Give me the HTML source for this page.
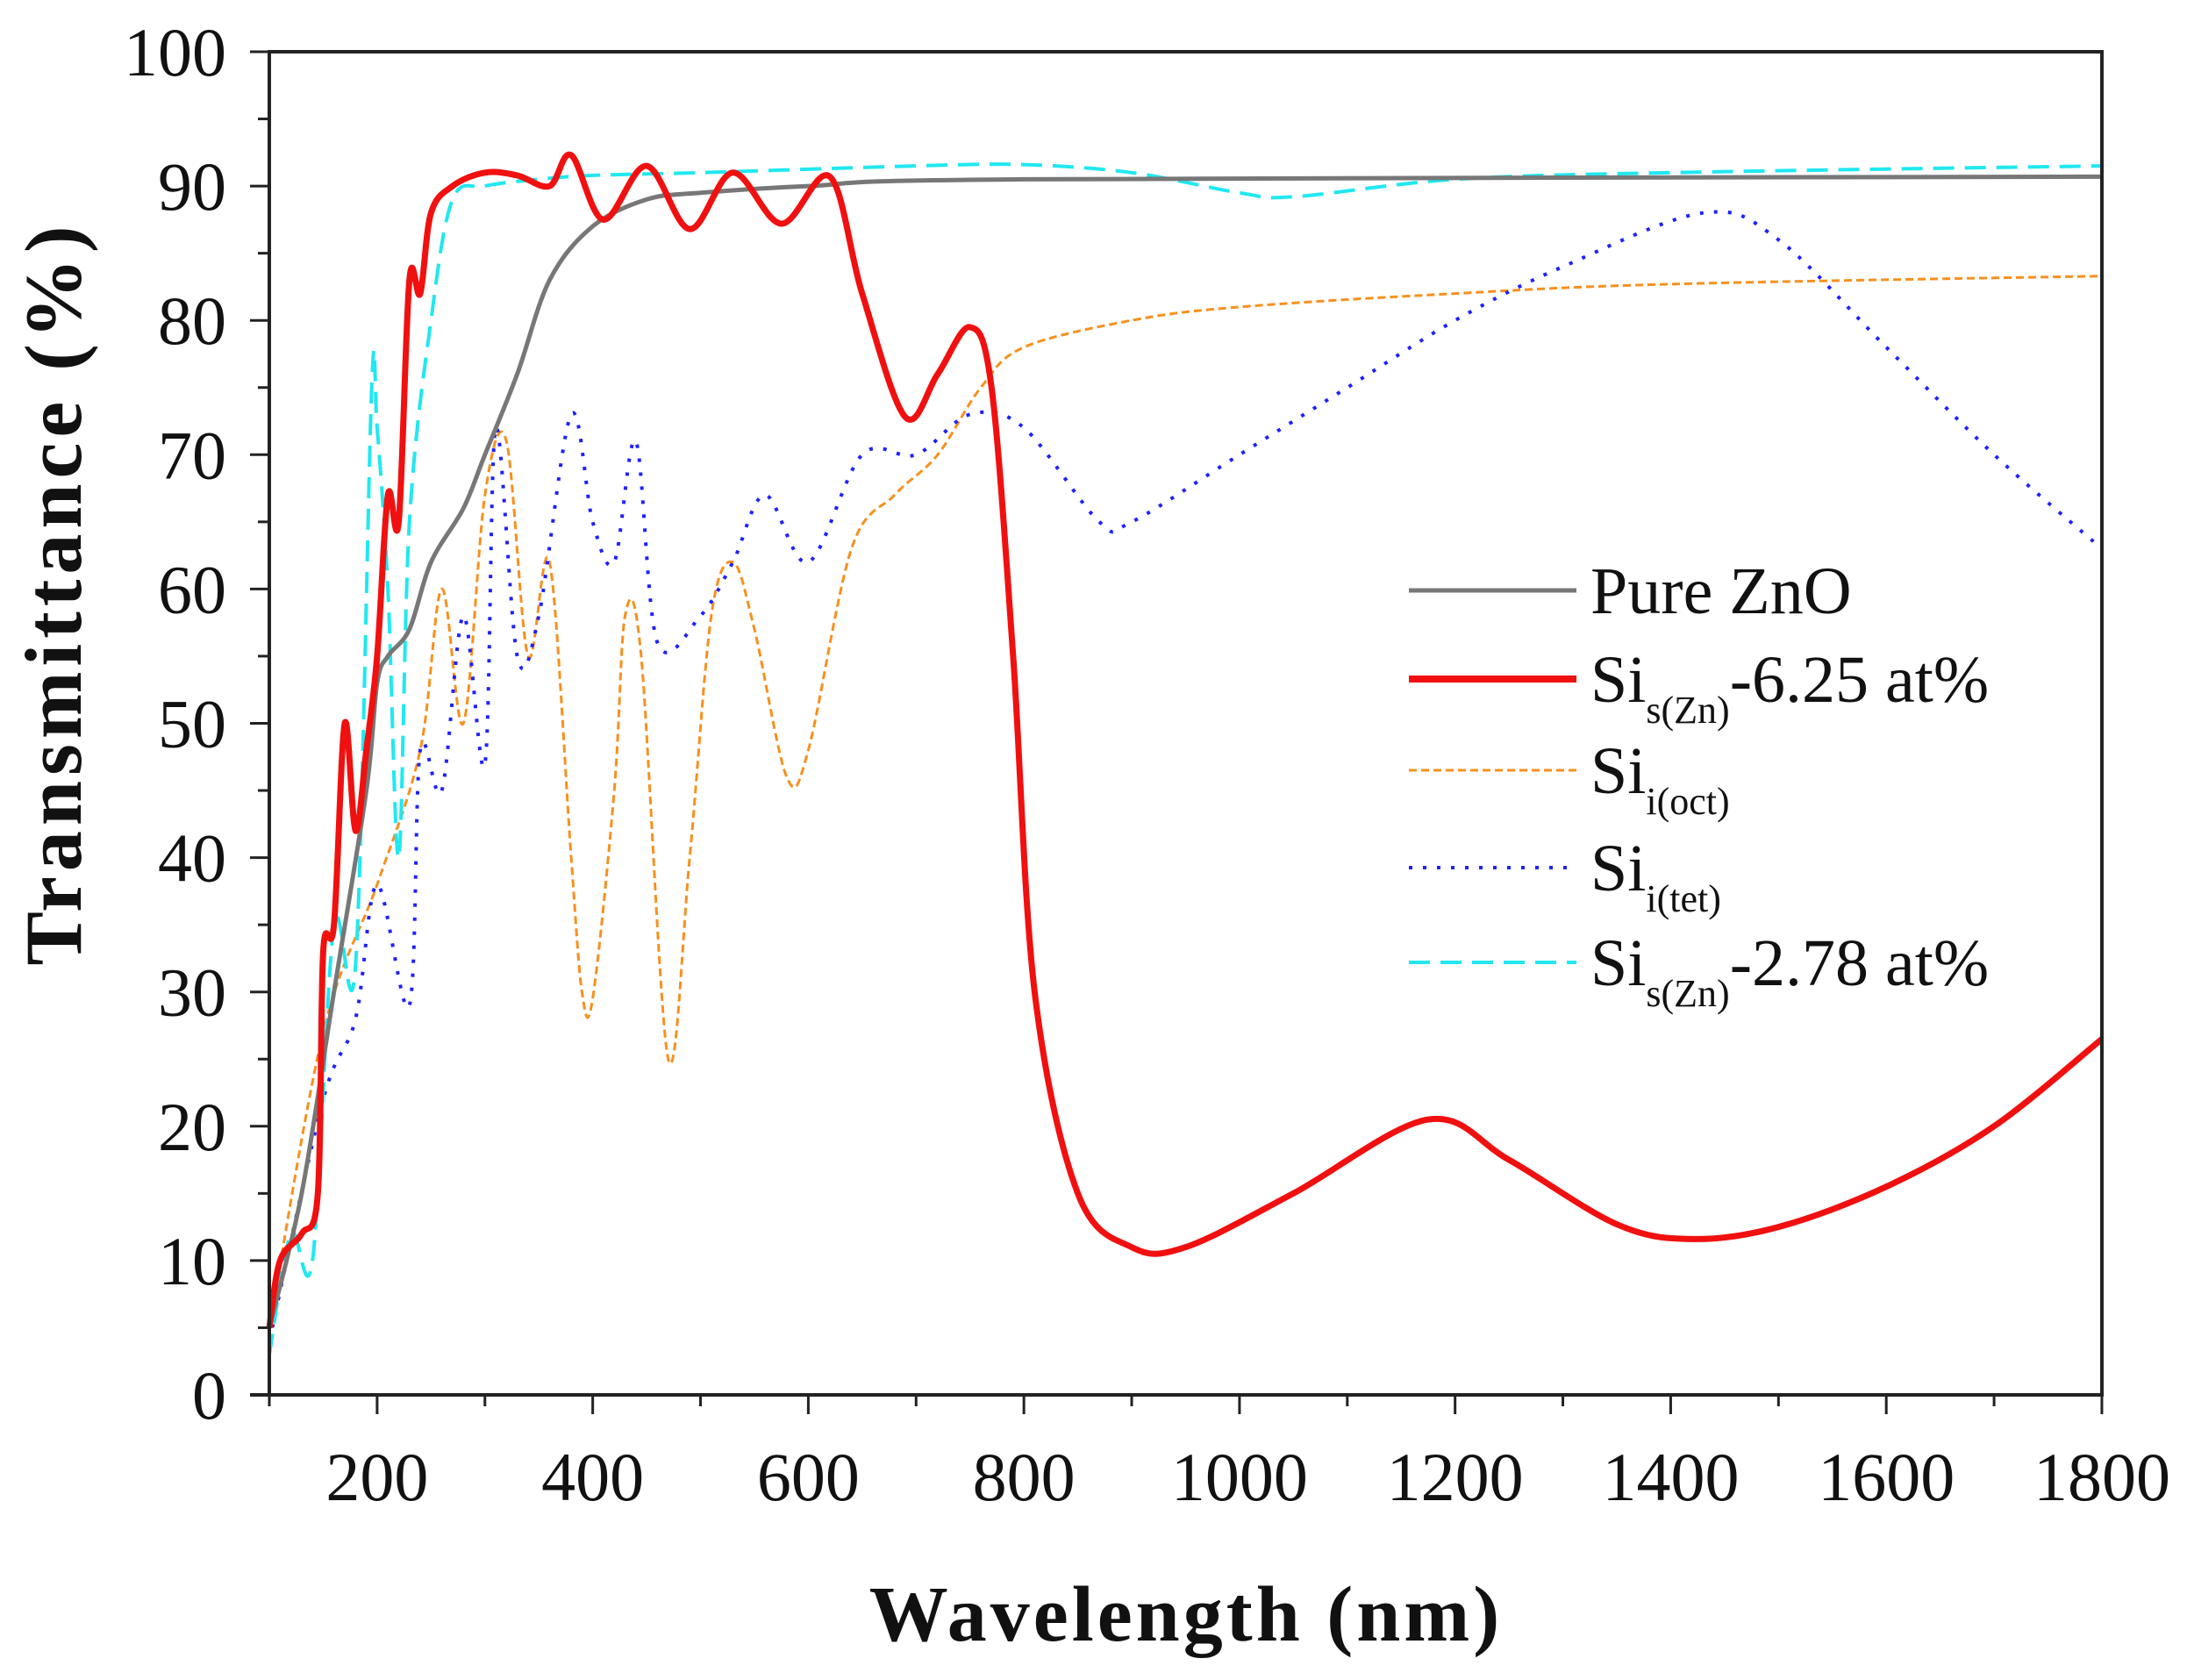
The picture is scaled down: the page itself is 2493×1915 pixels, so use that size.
<!DOCTYPE html>
<html><head><meta charset="utf-8"><style>
html,body{margin:0;padding:0;background:#fff}
svg{display:block}
text{font-family:"Liberation Serif",serif;fill:#111}
</style></head><body>
<svg id="s" width="2493" height="1915" viewBox="0 0 2493 1915" xmlns="http://www.w3.org/2000/svg">
<g id="curves"></g>
<g id="axes"></g>
<text x="1352" y="1870" font-size="90" font-weight="bold" text-anchor="middle" letter-spacing="4">Wavelength (nm)</text>
<text transform="translate(92,676) rotate(-90)" font-size="92" font-weight="bold" text-anchor="middle" letter-spacing="6">Transmittance (%)</text>
<g font-size="78" text-anchor="middle" id="xl"></g>
<g font-size="78" text-anchor="end" id="yl"></g>
<g id="leg">
<line x1="1606" y1="673" x2="1797" y2="673" stroke="#777" stroke-width="5"/>
<text x="1813" y="699" font-size="76">Pure ZnO</text>
<line x1="1606" y1="774" x2="1797" y2="774" stroke="#f01010" stroke-width="8"/>
<text x="1813" y="800" font-size="76">Si<tspan font-size="44" dy="24">s(Zn)</tspan><tspan dy="-24">-6.25 at%</tspan></text>
<line x1="1606" y1="878" x2="1797" y2="878" stroke="#f7901e" stroke-width="3" stroke-dasharray="9 5"/>
<text x="1813" y="904" font-size="76">Si<tspan font-size="44" dy="24">i(oct)</tspan></text>
<line x1="1606" y1="989" x2="1797" y2="989" stroke="#2020ff" stroke-width="4" stroke-dasharray="4 12"/>
<text x="1813" y="1015" font-size="76">Si<tspan font-size="44" dy="24">i(tet)</tspan></text>
<line x1="1606" y1="1097" x2="1797" y2="1097" stroke="#20e8f0" stroke-width="4" stroke-dasharray="24 12"/>
<text x="1813" y="1123" font-size="76">Si<tspan font-size="44" dy="24">s(Zn)</tspan><tspan dy="-24">-2.78 at%</tspan></text>
</g>
</svg>
<script>
var NS="http://www.w3.org/2000/svg";
function X(n){return 307+(n-100)*1.2288}
function Y(t){return 1590-t*15.31}
function path(pts,attrs){
 var P=pts.map(function(p){return [X(p[0]),Y(p[1])]});
 var d="M"+P[0][0].toFixed(1)+","+P[0][1].toFixed(1);
 for(var i=0;i<P.length-1;i++){
  var p0=P[i-1]||P[i],p1=P[i],p2=P[i+1],p3=P[i+2]||P[i+1];
  var c1=[p1[0]+(p2[0]-p0[0])/6,p1[1]+(p2[1]-p0[1])/6];
  var c2=[p2[0]-(p3[0]-p1[0])/6,p2[1]-(p3[1]-p1[1])/6];
  d+=" C"+c1.map(v=>v.toFixed(1))+" "+c2.map(v=>v.toFixed(1))+" "+p2.map(v=>v.toFixed(1));
 }
 var e=document.createElementNS(NS,"path");e.setAttribute("d",d);e.setAttribute("fill","none");
 e.setAttribute("stroke-linejoin","round");
 for(var k in attrs)e.setAttribute(k,attrs[k]);
 document.getElementById("curves").appendChild(e);
}
path([[100,5],[150,27],[200,38],[240,48],[260,60],[280,50],[300,67],[320,71],[340,55],[360,62],[380,40],[390,30],[400,29.5],[420,45],[430,58],[445,55],[470,25],[490,40],[510,58],[530,62],[550,57],[580,46],[600,48],[640,63],[680,67],[720,70],[760,75],[800,78],[900,80],[1000,81],[1200,82],[1400,82.7],[1800,83.3]],{stroke:"#f7901e","stroke-width":3,"stroke-dasharray":"9 5"});
path([[100,4],[150,22],[180,28],[200,38],[230,29],[240,48],[260,45],[280,58],[300,47],[310,72],[330,55],[350,58],[380,73],[400,65],[420,62],[440,71],[460,56],[500,58],[530,62],[560,67],[600,62],[650,70],[700,70],[750,73],[800,72],[870,65],[900,65],[1000,70],[1100,75],[1200,80],[1300,84],[1430,88],[1500,86],[1600,78],[1700,70],[1800,63]],{stroke:"#2020ff","stroke-width":4,"stroke-dasharray":"4 12"});
path([[100,3],[120,12],[140,10],[160,35],[180,32],[195,75],[200,72],[210,60],[220,40],[230,65],[250,80],[270,89],[300,90],[350,90.5],[400,90.8],[500,91],[700,91.5],[800,91.6],[900,91],[1000,89.5],[1050,89.2],[1200,90.5],[1400,91],[1800,91.5]],{stroke:"#20e8f0","stroke-width":4,"stroke-dasharray":"24 12"});
path([[100,5],[130,15],[160,30],[190,45],[200,53],[210,55],[230,57],[250,62],[280,66],[300,70],[330,76],[360,83],[400,87],[450,89],[500,89.5],[600,90],[800,90.5],[1800,90.7]],{stroke:"#777","stroke-width":5});
path([[100,5],[110,10],[130,12],[145,15],[150,33],[160,35],[170,50],[180,42],[190,48],[200,55],[210,67],[220,65],[230,83],[240,82],[250,88],[270,90],[300,91],[330,90.8],[360,90],[380,92.3],[410,87.5],[450,91.5],[490,86.8],[530,91],[575,87.2],[620,90.7],[650,82],[690,72.8],[720,76],[750,79.5],[770,75],[790,55],[810,30],[850,15],[900,11],[950,11],[1050,15],[1175,20.5],[1250,17.5],[1350,12.7],[1420,11.6],[1500,12.5],[1600,15.5],[1700,20],[1800,26.5]],{stroke:"#f01010","stroke-width":7});
var ax=document.getElementById("axes"),h="";
h+='<rect x="307" y="59" width="2089" height="1531" fill="none" stroke="#222" stroke-width="4"/>';
h+='<line x1="285" y1="1590" x2="307" y2="1590" stroke="#222" stroke-width="4"/>';
for(var n=100;n<=1800;n+=100){var x=X(n),L=(n%200==0)?22:13;h+='<line x1="'+x+'" y1="1590" x2="'+x+'" y2="'+(1590+L)+'" stroke="#222" stroke-width="3"/>';}
for(var t=0;t<=100;t+=5){var y=Y(t),L=(t%10==0)?22:13;h+='<line x1="'+(307-L)+'" y1="'+y+'" x2="307" y2="'+y+'" stroke="#222" stroke-width="3"/>';}
ax.innerHTML=h;
var xl="";for(var n=200;n<=1800;n+=200)xl+='<text x="'+X(n)+'" y="1710">'+n+'</text>';
document.getElementById("xl").innerHTML=xl;
var yl="";for(var t=0;t<=100;t+=10)yl+='<text x="258" y="'+(Y(t)+27)+'">'+t+'</text>';
document.getElementById("yl").innerHTML=yl;
</script>
</body></html>
